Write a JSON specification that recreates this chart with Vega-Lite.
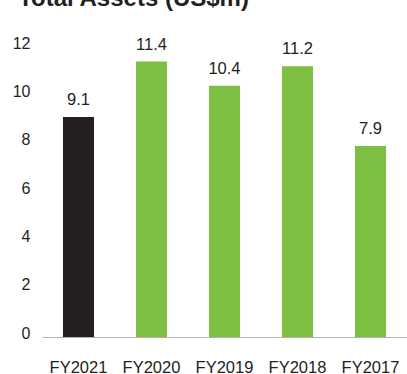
{
  "$schema": "https://vega.github.io/schema/vega-lite/v6.json",
  "width": 365,
  "height": 290,
  "autosize": "none",
  "padding": {"left": 42, "top": 47, "right": 0, "bottom": 37},
  "title": {
    "text": "Total Assets (US$m)",
    "anchor": "start",
    "font": "Liberation Sans",
    "fontSize": 24,
    "fontWeight": "bold",
    "color": "#231f20",
    "baseline": "alphabetic",
    "offset": 5,
    "dx": 6
  },
  "config": {
    "view": {"stroke": null},
    "font": "Liberation Sans"
  },
  "data": {
    "values": [
      {"year": "FY2021", "value": 9.1, "current": "yes"},
      {"year": "FY2020", "value": 11.4, "current": "no"},
      {"year": "FY2019", "value": 10.4, "current": "no"},
      {"year": "FY2018", "value": 11.2, "current": "no"},
      {"year": "FY2017", "value": 7.9, "current": "no"}
    ]
  },
  "encoding": {
    "x": {
      "field": "year",
      "type": "nominal",
      "sort": null,
      "scale": {"paddingInner": 0.575, "paddingOuter": 0.2875},
      "axis": {
        "title": null,
        "ticks": false,
        "labelAngle": 0,
        "labelFont": "Liberation Sans",
        "labelFontSize": 16.5,
        "labelColor": "#231f20",
        "labelBaseline": "alphabetic",
        "labelPadding": 35,
        "domainColor": "#b3b3b3",
        "domainWidth": 1
      }
    },
    "y": {
      "field": "value",
      "type": "quantitative",
      "scale": {"domain": [0, 12]},
      "axis": {
        "title": null,
        "values": [0, 2, 4, 6, 8, 10, 12],
        "grid": false,
        "ticks": false,
        "domain": false,
        "labelFont": "Liberation Sans",
        "labelFontSize": 16,
        "labelColor": "#231f20",
        "labelPadding": 12,
        "labelOffset": -4
      }
    }
  },
  "layer": [
    {
      "mark": {"type": "bar"},
      "encoding": {
        "color": {
          "field": "current",
          "type": "nominal",
          "scale": {"domain": ["yes", "no"], "range": ["#231f20", "#7dbf43"]},
          "legend": null
        }
      }
    },
    {
      "mark": {
        "type": "text",
        "baseline": "alphabetic",
        "dy": -12,
        "font": "Liberation Sans",
        "fontSize": 16.5,
        "color": "#231f20"
      },
      "encoding": {
        "text": {"field": "value", "type": "quantitative", "format": ".1f"}
      }
    }
  ]
}
